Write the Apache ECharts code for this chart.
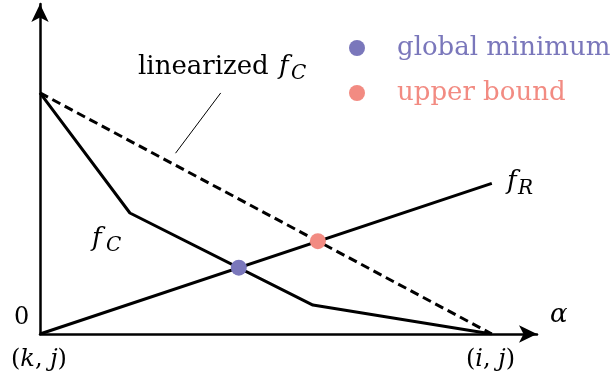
<!DOCTYPE html>
<html>
<head>
<meta charset="utf-8">
<script src="https://cdn.jsdelivr.net/npm/echarts@6/dist/echarts.min.js"></script>
<style>
  html, body { margin: 0; padding: 0; background: #fff; }
  #chart { width: 613px; height: 381px; }
</style>
</head>
<body>
<div id="chart"></div>
<script>
// data (alpha from (k,j)=0 to (i,j)=1)
var fC = [[0, 1], [0.199, 0.502], [0.604, 0.12], [1, 0]];
var linearizedFC = [[0, 1], [1, 0]];
var fR = [[0, 0], [1, 0.625]];
var leader = [[0.40, 1.0], [0.30, 0.75]];
var globalMin = [[0.44, 0.275]];
var upperBound = [[0.615, 0.385]];

var purple = '#7a77bb';
var salmon = '#f28b82';
var serif = 'DejaVu Serif';

var chart = echarts.init(document.getElementById('chart'));

// italic letter with a subscript, as two text pieces
function withSub(main, sub, x, y, dx) {
  return [
    { type: 'text', left: x, top: y, style: { text: main, font: 'italic 26px ' + serif, fill: '#000' } },
    { type: 'text', left: x + dx, top: y + 10, style: { text: sub, font: 'italic 20px ' + serif, fill: '#000' } }
  ];
}

var pair = {
  p: { fontFamily: serif, fontSize: 24, color: '#000' },
  i: { fontFamily: serif, fontSize: 24, fontStyle: 'italic', color: '#000' }
};

var graphics = []
  .concat([{ type: 'text', left: 138, top: 54, style: { text: 'linearized', font: '26px ' + serif, fill: '#000' } }])
  .concat(withSub('f', 'C', 279, 54, 12))
  .concat(withSub('f', 'C', 92, 226, 14))
  .concat(withSub('f', 'R', 507, 169, 11))
  .concat([
    { type: 'text', left: 550, top: 302, style: { text: 'α', font: 'italic 26px ' + serif, fill: '#000' } },
    { type: 'text', left: 14, top: 306, style: { text: '0', font: '24px ' + serif, fill: '#000' } },
    { type: 'text', left: 11, top: 348, style: { text: '{p|(}{i|k}{p|, }{i|j}{p|)}', rich: pair } },
    { type: 'text', left: 466, top: 348, style: { text: '{p|(}{i|i}{p|, }{i|j}{p|)}', rich: pair } }
  ]);

var option = {
  animation: false,
  grid: { left: 40, width: 497, top: 4, height: 330, containLabel: false },
  legend: {
    orient: 'vertical',
    left: 349,
    top: 35,
    padding: 0,
    icon: 'circle',
    itemWidth: 16,
    itemHeight: 16,
    itemGap: 19,
    data: [
      { name: 'global minimum', textStyle: { color: purple } },
      { name: 'upper bound', textStyle: { color: salmon } }
    ],
    textStyle: { fontFamily: serif, fontSize: 26, padding: [0, 0, 0, 27] }
  },
  xAxis: {
    type: 'value', min: 0, max: 1.1,
    splitLine: { show: false }, axisTick: { show: false }, axisLabel: { show: false },
    axisLine: { lineStyle: { color: '#000', width: 2.5 }, symbol: ['none', 'arrow'], symbolSize: [13, 18] }
  },
  yAxis: {
    type: 'value', min: 0, max: 1.369,
    splitLine: { show: false }, axisTick: { show: false }, axisLabel: { show: false },
    axisLine: { lineStyle: { color: '#000', width: 2.5 }, symbol: ['none', 'arrow'], symbolSize: [13, 18] }
  },
  series: [
    { type: 'line', data: linearizedFC, symbol: 'none', lineStyle: { color: '#000', width: 3, type: [9, 5] } },
    { type: 'line', data: fC, symbol: 'none', lineStyle: { color: '#000', width: 3 } },
    { type: 'line', data: fR, symbol: 'none', lineStyle: { color: '#000', width: 3 } },
    { type: 'line', data: leader, symbol: 'none', lineStyle: { color: '#000', width: 1 } },
    { name: 'global minimum', type: 'scatter', data: globalMin, symbolSize: 16, itemStyle: { color: purple, opacity: 1 }, z: 5 },
    { name: 'upper bound', type: 'scatter', data: upperBound, symbolSize: 16, itemStyle: { color: salmon, opacity: 1 }, z: 5 }
  ],
  graphic: graphics
};

chart.setOption(option);
</script>
</body>
</html>
